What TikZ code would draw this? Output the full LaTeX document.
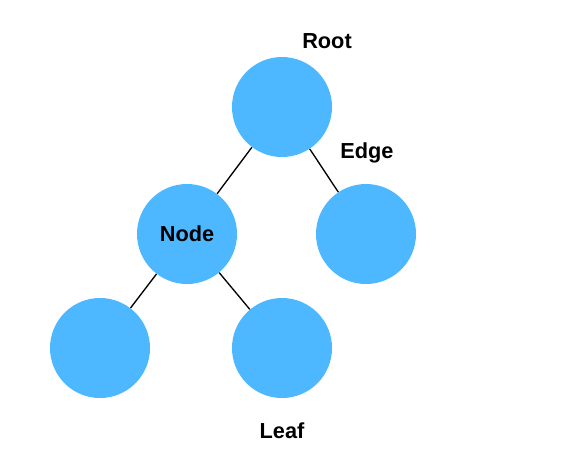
\documentclass[tikz,border=0pt]{standalone}
\usepackage{fontspec}
\setmainfont{Liberation Sans}
\usepackage{tikz}
\usepackage{xcolor}
\definecolor{treeblue}{HTML}{4DB8FF}

\begin{document}
\begin{tikzpicture}[x=0.75pt,y=0.75pt,yscale=-1,xscale=1,
  vertex/.style={circle,fill=treeblue,minimum size=75pt,inner sep=0pt},
  lbl/.style={inner sep=0.75pt,font=\fontsize{16.3}{19}\selectfont\bfseries}]
\useasboundingbox (0,0) rectangle (578,472);

%Shape: Circles
\node [vertex] (root) at (282,107) {};
\node [vertex,lbl,minimum size=75pt] (node) at (187,234) {Node};
\node [vertex] (right) at (366,234) {};
\node [vertex] (leafl) at (100,348) {};
\node [vertex] (leafr) at (282,348) {};

%Straight Lines
\draw [line width=1pt] (root) -- (node) ;
\draw [line width=1pt] (root) -- (right) ;
\draw [line width=1pt] (node) -- (leafl) ;
\draw [line width=1pt] (node) -- (leafr) ;

% Text Node
\node [lbl] (rootlbl) at (327,41) {Root};
% Text Node
\node [lbl] (edgelbl) at (367,153) {Edge};
% Text Node
\node [lbl] (leaflbl) at (282,431) {Leaf};
\end{tikzpicture}
\end{document}
